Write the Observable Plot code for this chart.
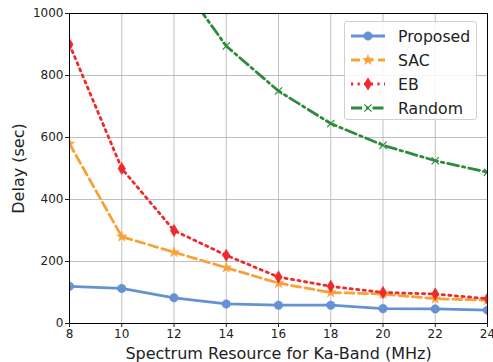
<!DOCTYPE html>
<html>
<head>
<meta charset="utf-8">
<script src="https://cdn.jsdelivr.net/npm/d3@7"></script>
<script src="https://cdn.jsdelivr.net/npm/@observablehq/plot@0.6"></script>
<style>
  body { margin: 0; background: #fff; }
  #wrap { position: relative; width: 493px; height: 362px; font-family: "DejaVu Sans", sans-serif; }
  #wrap svg { overflow: visible; }
  g[aria-label="x-axis label"] text, g[aria-label="y-axis label"] text { font-size: 16px; font-weight: normal; fill: #222; }
  g[aria-label="x-axis tick label"] text, g[aria-label="y-axis tick label"] text { fill: #222; }
  #legend { position: absolute; left: 344px; top: 21px; width: 133px; height: 99px; box-sizing: border-box;
    border: 1px solid #d0d0d0; border-radius: 3px; background: rgba(255,255,255,0.85); padding-top: 2px; }
  .row { display: flex; align-items: center; height: 24px; }
  .row svg { margin-left: 5px; margin-right: 12px; }
  .row span { font-size: 15.7px; color: #222; }
</style>
</head>
<body>
<div id="wrap"></div>
<script>
const xTicks = [8, 10, 12, 14, 16, 18, 20, 22, 24];
const yTicks = [0, 200, 400, 600, 800, 1000];
const seriesNames = ["Proposed", "SAC", "EB", "Random"];
const xValues = [8, 10, 12, 14, 16, 18, 20, 22, 24];
const proposed = [120, 113, 83, 63, 59, 59, 48, 47, 43];
const sac = [580, 280, 230, 180, 130, 100, 95, 80, 75];
const eb = [900, 500, 300, 220, 150, 120, 100, 95, 80];
const randomX = [12, 14, 16, 18, 20, 22, 24];
const random = [1130, 895, 750, 645, 575, 525, 488];

const thinDiamond = {
  draw(ctx, size) {
    const h = Math.sqrt(size / Math.PI) * 1.35;
    const w = h * 0.6;
    ctx.moveTo(0, -h); ctx.lineTo(w, 0); ctx.lineTo(0, h); ctx.lineTo(-w, 0); ctx.closePath();
  }
};

const styles = {
  Proposed: {color: "#6592d3", dash: null, sym: "circle", r: 4.3, fillSym: true},
  SAC: {color: "#f9a137", dash: "9,4.5", sym: "star", r: 3.3, fillSym: true},
  EB: {color: "#ee2b2b", dash: "2.2,4.4", sym: thinDiamond, r: 4.6, fillSym: true},
  Random: {color: "#2e8b3c", dash: "11,4,2.5,4", sym: "times", r: 3.4, fillSym: false}
};

const table = [];
xValues.forEach((x, i) => {
  table.push({series: "Proposed", x, y: proposed[i]});
  table.push({series: "SAC", x, y: sac[i]});
  table.push({series: "EB", x, y: eb[i]});
});
randomX.forEach((x, i) => table.push({series: "Random", x, y: random[i]}));

const marks = [
  Plot.gridX(xTicks, {stroke: "#b0b0b0", strokeOpacity: 1, strokeWidth: 0.8}),
  Plot.gridY(yTicks, {stroke: "#b0b0b0", strokeOpacity: 1, strokeWidth: 0.8})
];
for (const name of seriesNames) {
  const s = styles[name];
  const d = table.filter(r => r.series === name);
  marks.push(Plot.line(d, {x: "x", y: "y", stroke: s.color, strokeWidth: 2.8, strokeDasharray: s.dash, clip: true}));
  marks.push(Plot.dot(d, {x: "x", y: "y", symbol: () => s.sym, r: s.r,
    fill: s.fillSym ? s.color : "none", stroke: s.color, strokeWidth: s.fillSym ? 0.5 : 1.2, clip: true}));
}
marks.push(Plot.frame({stroke: "#000", strokeWidth: 1}));
marks.push(Plot.axisX(xTicks, {tickSize: 4, tickPadding: 2, fontSize: 12, tickFormat: d => String(d),
  label: "Spectrum Resource for Ka-Band (MHz)", labelAnchor: "center", labelArrow: "none", labelOffset: 35}));
marks.push(Plot.axisY(yTicks, {tickSize: 4, tickPadding: 2, fontSize: 12, tickFormat: d => String(d),
  label: "Delay (sec)", labelAnchor: "center", labelArrow: "none", labelOffset: 57}));

const chart = Plot.plot({
  width: 493, height: 362,
  marginLeft: 69, marginRight: 6, marginTop: 13, marginBottom: 39,
  x: {domain: [8, 24]},
  y: {domain: [0, 1000]},
  style: {fontFamily: "DejaVu Sans, sans-serif", fontSize: "12px", background: "#fff", color: "#222"},
  marks
});
const wrap = document.getElementById("wrap");
wrap.appendChild(chart);

const legend = document.createElement("div");
legend.id = "legend";
for (const name of seriesNames) {
  const s = styles[name];
  const row = document.createElement("div");
  row.className = "row";
  const svg = d3.create("svg").attr("width", 36).attr("height", 16);
  svg.append("line").attr("x1", 1).attr("x2", 35).attr("y1", 8).attr("y2", 8)
    .attr("stroke", s.color).attr("stroke-width", 2.8).attr("stroke-dasharray", s.dash);
  const symType = typeof s.sym === "string" ? {circle: d3.symbolCircle, star: d3.symbolStar, times: d3.symbolTimes}[s.sym] : s.sym;
  svg.append("path").attr("transform", "translate(18,8)")
    .attr("d", d3.symbol(symType, s.r * s.r * Math.PI)())
    .attr("fill", s.fillSym ? s.color : "none").attr("stroke", s.color).attr("stroke-width", s.fillSym ? 0.5 : 1.2);
  row.appendChild(svg.node());
  const span = document.createElement("span");
  span.textContent = name;
  row.appendChild(span);
  legend.appendChild(row);
}
wrap.appendChild(legend);
</script>
</body>
</html>
